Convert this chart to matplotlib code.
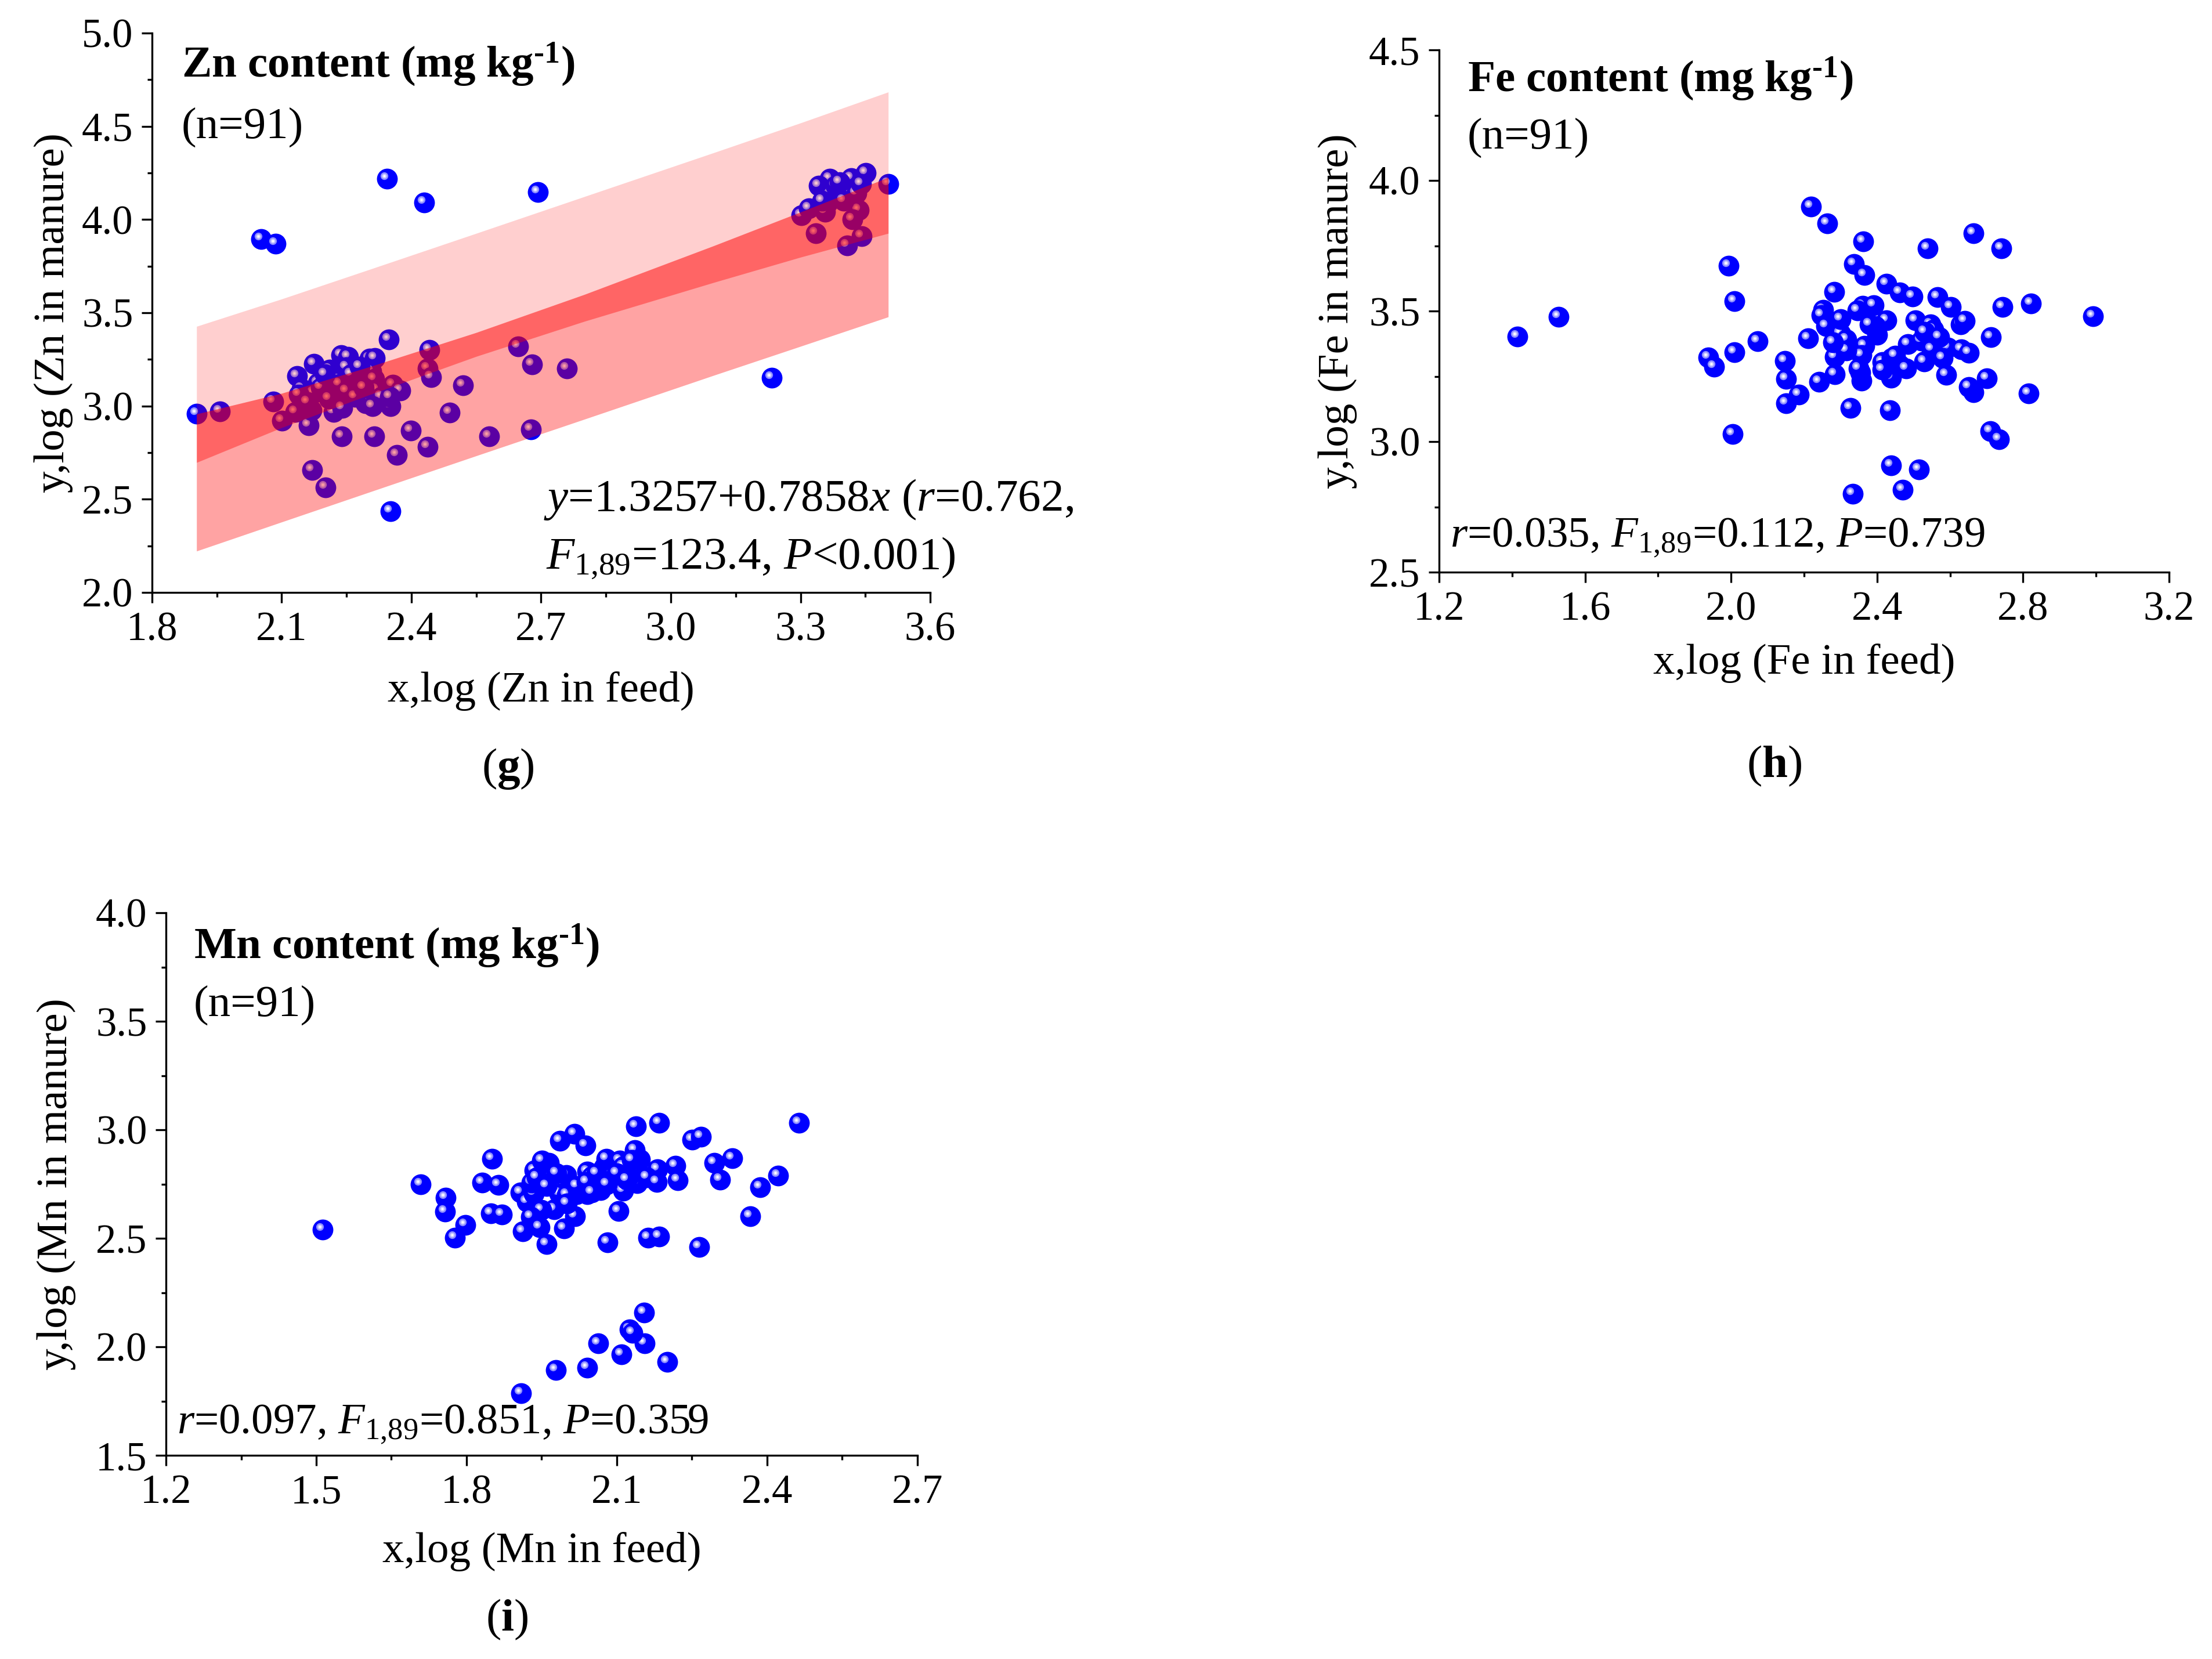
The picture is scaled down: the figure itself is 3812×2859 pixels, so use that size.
import matplotlib
matplotlib.use('Agg')
import matplotlib.pyplot as plt
import matplotlib.transforms as mtransforms
from matplotlib.ticker import MultipleLocator, FormatStrFormatter

plt.rcParams['font.family'] = ['Liberation Serif', 'DejaVu Serif']
plt.rcParams['mathtext.fontset'] = 'custom'
plt.rcParams['mathtext.rm'] = 'Liberation Serif'
plt.rcParams['mathtext.it'] = 'Liberation Serif:italic'
plt.rcParams['mathtext.bf'] = 'Liberation Serif:bold'

# ---------------- data ----------------
zn_feed = [1.903, 1.957, 2.053, 2.086, 2.343, 2.429, 2.693, 3.234, 2.760,
           2.347, 2.441, 2.438, 2.445, 2.520, 2.647, 2.679, 2.677, 2.580, 2.489,
           2.398, 2.437, 2.366, 2.314, 2.239, 2.171, 2.201, 2.352, 2.080, 2.101,
           2.162, 2.131,
           2.135, 2.175, 2.211, 2.238, 2.254, 2.303, 2.316, 2.249, 2.307, 2.184,
           2.231, 2.146, 2.175, 2.233, 2.276, 2.314, 2.319, 2.357, 2.374, 2.294,
           2.352, 2.220, 2.240, 2.169, 2.140, 2.204,
           2.19, 2.21, 2.25, 2.27, 2.29, 2.33, 2.26, 2.16, 2.20, 2.28, 2.24, 2.31, 2.35,
           3.504, 3.451, 3.417, 3.368, 3.342, 3.370, 3.430, 3.363, 3.435, 3.357,
           3.302, 3.336, 3.442, 3.408, 3.381,
           3.39, 3.40, 3.44, 3.35, 3.42, 3.32]
zn_manure = [2.960, 2.971, 3.896, 3.870, 4.218, 4.092, 4.147, 3.150, 3.200,
             3.357, 3.302, 3.201, 3.155, 3.111, 3.318, 3.222, 2.875, 2.838, 2.966,
             2.869, 2.781, 2.737, 2.838, 2.838, 2.657, 2.563, 2.436, 3.025, 2.921,
             2.895, 2.968,
             3.160, 3.225, 3.196, 3.274, 3.264, 3.253, 3.256, 3.207, 3.186, 3.123,
             3.139, 3.092, 3.072, 3.118, 3.139, 3.144, 3.087, 3.113, 3.082, 3.015,
             2.999, 2.968, 3.041, 2.978, 3.061, 3.061,
             3.10, 3.04, 3.08, 3.05, 3.10, 3.05, 3.17, 3.02, 3.17, 3.21, 2.99, 3.00, 3.05,
             4.190, 4.249, 4.223, 4.218, 4.182, 4.135, 4.140, 4.088, 4.052, 4.042,
             4.024, 3.927, 3.912, 3.860, 4.182,
             4.20, 4.10, 4.19, 4.10, 4.00, 4.06]

# confidence / prediction bands of the Zn fit, read at a few x positions
zn_band_x = [1.903, 2.10, 2.30, 2.55, 2.80, 3.10, 3.30, 3.503]
zn_conf_lo = [2.697, 2.884, 3.058, 3.266, 3.454, 3.663, 3.798, 3.926]
zn_conf_hi = [2.957, 3.068, 3.208, 3.394, 3.598, 3.860, 4.040, 4.226]
zn_pred_lo = [2.222, 2.378, 2.536, 2.733, 2.929, 3.165, 3.320, 3.478]
zn_pred_hi = [3.427, 3.574, 3.730, 3.926, 4.123, 4.359, 4.518, 4.684]

fe_feed = [2.219, 2.264, 2.362, 2.539, 2.665, 2.741, 2.337, 2.366, 2.425, 2.462,
           2.498, 2.282, 2.566, 2.602, 2.743, 2.821, 2.360, 2.390, 2.347, 2.252,
           2.247, 2.292, 2.260, 2.211, 2.425, 2.401, 2.395, 2.505, 2.546, 2.555,
           2.630, 2.641, 2.712, 2.300, 2.316, 2.366, 2.358, 2.284, 2.316, 2.484,
           2.521, 2.549, 2.594, 2.631, 2.651, 2.580, 2.529, 2.414, 2.462, 2.440,
           2.148, 2.151, 2.186, 2.151, 2.241, 2.284, 2.357, 2.355, 2.439, 2.414,
           2.590, 2.701, 2.664, 2.652, 2.816, 2.327, 2.436, 2.710, 2.734, 2.438,
           2.515, 2.471, 2.333,
           1.415, 1.528, 1.994, 2.010, 2.010, 2.073, 1.937, 1.953, 2.005, 2.991,
           2.30, 2.38, 2.45, 2.53, 2.57, 2.35, 2.48, 2.28]
fe_manure = [3.899, 3.836, 3.767, 3.741, 3.798, 3.739, 3.680, 3.637, 3.604, 3.571,
             3.556, 3.573, 3.554, 3.516, 3.516, 3.528, 3.519, 3.523, 3.502, 3.504,
             3.484, 3.459, 3.443, 3.395, 3.464, 3.410, 3.443, 3.465, 3.450, 3.430,
             3.449, 3.462, 3.399, 3.413, 3.391, 3.367, 3.332, 3.325, 3.350, 3.374,
             3.387, 3.354, 3.360, 3.354, 3.339, 3.321, 3.306, 3.304, 3.293, 3.321,
             3.310, 3.241, 3.180, 3.147, 3.230, 3.258, 3.234, 3.265, 3.244, 3.276,
             3.256, 3.243, 3.188, 3.210, 3.184, 3.128, 3.121, 3.039, 3.010, 2.910,
             2.893, 2.815, 2.800,
             3.403, 3.477, 3.674, 3.537, 3.342, 3.384, 3.323, 3.287, 3.029, 3.481,
             3.47, 3.45, 3.33, 3.42, 3.40, 3.28, 3.28, 3.38]

mn_feed = [1.708, 1.758, 1.757, 1.798, 1.777, 1.851, 1.831, 1.864, 1.849, 1.871,
           1.908, 1.920, 1.934, 1.930, 1.936, 1.964, 1.951, 1.987, 2.016, 2.037,
           1.999, 1.985, 1.975, 1.950, 1.929, 1.912, 1.946, 1.960, 1.995, 2.017,
           2.020, 2.041, 2.068, 2.041, 2.075, 2.079, 2.106, 2.113, 2.136, 2.146,
           2.181, 2.217, 2.222, 2.140, 2.113, 2.103, 2.082, 2.163, 2.184, 2.264,
           2.138, 2.184, 2.251, 2.268,
           2.155, 2.126, 2.156, 2.063, 2.109, 2.201, 2.041, 1.978, 1.909, 2.131,
           2.050, 2.089, 2.124,
           1.513, 2.295, 2.330, 2.306, 2.386, 2.422, 2.366, 2.464,
           1.94, 1.96, 1.98, 2.00, 2.02, 2.04, 2.06, 2.08, 2.10, 2.12, 2.14, 2.16,
           2.18, 2.00, 2.05, 2.13]
mn_manure = [2.749, 2.688, 2.624, 2.562, 2.504, 2.865, 2.757, 2.747, 2.616, 2.609,
             2.711, 2.669, 2.705, 2.756, 2.812, 2.848, 2.858, 2.948, 2.982, 2.928,
             2.791, 2.705, 2.633, 2.631, 2.600, 2.532, 2.551, 2.473, 2.545, 2.601,
             2.702, 2.703, 2.722, 2.807, 2.828, 2.867, 2.858, 2.831, 2.907, 2.864,
             2.818, 2.834, 2.767, 2.754, 2.718, 2.627, 2.482, 2.503, 2.508, 2.461,
             3.017, 3.032, 2.954, 2.968,
             2.159, 2.079, 2.016, 2.016, 1.964, 1.930, 1.903, 1.892, 1.785, 2.065,
             2.787, 2.787, 2.787,
             2.539, 2.847, 2.868, 2.771, 2.736, 2.789, 2.602, 3.033,
             2.78, 2.74, 2.80, 2.70, 2.74, 2.76, 2.80, 2.75, 2.80, 2.77, 2.82, 2.78,
             2.76, 2.66, 2.71, 2.86]

# ---------------- figure ----------------
W, H = 3812, 2859
DPI = 300
fig = plt.figure(figsize=(W / DPI, H / DPI), dpi=DPI)
FS_TICK = 17
FS_LAB = 18
FS_EQ = 19
FS_TITLE = 18.5


def axes_px(l, t, r, b):
    return fig.add_axes([l / W, 1 - b / H, (r - l) / W, (b - t) / H])


def ftext(x, y, s, **kw):
    fig.text(x / W, 1 - y / H, s, **kw)


def style(ax, xlim, ylim, xmaj, ymaj):
    ax.set_xlim(*xlim)
    ax.set_ylim(*ylim)
    ax.xaxis.set_major_locator(MultipleLocator(xmaj))
    ax.xaxis.set_minor_locator(MultipleLocator(xmaj / 2))
    ax.yaxis.set_major_locator(MultipleLocator(ymaj))
    ax.yaxis.set_minor_locator(MultipleLocator(ymaj / 2))
    ax.xaxis.set_major_formatter(FormatStrFormatter('%.1f'))
    ax.yaxis.set_major_formatter(FormatStrFormatter('%.1f'))
    for sp in ['top', 'right']:
        ax.spines[sp].set_visible(False)
    for sp in ['left', 'bottom']:
        ax.spines[sp].set_linewidth(0.8)
    ax.tick_params(which='both', direction='out', width=0.8, top=False, right=False)
    ax.tick_params(which='major', length=4.3, labelsize=FS_TICK, pad=3.5)
    ax.tick_params(which='minor', length=1.9)
    ax.patch.set_alpha(0)


def balls(ax, xs, ys):
    off = mtransforms.offset_copy(ax.transData, fig=fig, x=-1.2, y=1.2, units='points')
    for k, (x, y) in enumerate(zip(xs, ys)):
        z = 3 + k * 0.01
        ax.plot([x], [y], 'o', ms=8.6, mfc='#0000FF', mec='none', zorder=z)
        ax.plot([x], [y], 'o', ms=3.2, mfc='#8C8CFF', mec='none', zorder=z + 0.002, transform=off)
        ax.plot([x], [y], 'o', ms=2.0, mfc='#CACAFF', mec='none', zorder=z + 0.004, transform=off)
        ax.plot([x], [y], 'o', ms=0.95, mfc='#FFFFFF', mec='none', zorder=z + 0.006, transform=off)


# ---------- panel g ----------
axg = axes_px(262, 57, 1603, 1021)
style(axg, (1.8, 3.6), (2.0, 5.0), 0.3, 0.5)
balls(axg, zn_feed, zn_manure)
axg.fill_between(zn_band_x, zn_pred_lo, zn_pred_hi, color='#FF0000', alpha=0.19, lw=0, zorder=5)
axg.fill_between(zn_band_x, zn_pred_lo, zn_conf_hi, color='#FF0000', alpha=0.21, lw=0, zorder=5.1)
axg.fill_between(zn_band_x, zn_conf_lo, zn_conf_hi, color='#FF0000', alpha=0.375, lw=0, zorder=5.2)
axg.set_xlabel('x,log (Zn in feed)', fontsize=FS_LAB)
axg.set_ylabel('y,log (Zn in manure)', fontsize=FS_LAB)

# ---------- panel h ----------
axh = axes_px(2480, 86, 3738, 986)
style(axh, (1.2, 3.2), (2.5, 4.5), 0.4, 0.5)
balls(axh, fe_feed, fe_manure)
axh.set_xlabel('x,log (Fe in feed)', fontsize=FS_LAB)
axh.set_ylabel('y,log (Fe in manure)', fontsize=FS_LAB)

# ---------- panel i ----------
axi = axes_px(286, 1573, 1581, 2508)
style(axi, (1.2, 2.7), (1.5, 4.0), 0.3, 0.5)
balls(axi, mn_feed, mn_manure)
axi.set_xlabel('x,log (Mn in feed)', fontsize=FS_LAB)
axi.set_ylabel('y,log (Mn in manure)', fontsize=FS_LAB)

# axis label placement (figure pixel -> axes coords)
for ax, (l, t, r, b), xl_y, yl_x in [
        (axg, (262, 57, 1603, 1021), 1191, 92),
        (axh, (2480, 86, 3738, 986), 1143, 2305),
        (axi, (286, 1573, 1581, 2508), 2674, 97)]:
    ax.xaxis.set_label_coords(0.5, (b - xl_y) / (b - t))
    ax.xaxis.label.set_va('center')
    ax.yaxis.set_label_coords((yl_x - l) / (r - l), 0.5)
    ax.yaxis.label.set_va('center')
    ax.yaxis.label.set_ha('center')

# ---------- texts ----------
SUP = '$^{\\mathbf{\u20101}}$'
SUB = '$\\mathit{F}_{\\text{1,89}}$'
ftext(313, 133, 'Zn content (mg kg' + SUP + ')', fontsize=FS_TITLE, fontweight='bold', va='baseline')
ftext(313, 238, '(n=91)', fontsize=FS_TITLE, va='baseline')
ftext(937, 880, r'$\mathit{y}$=1.3257+0.7858$\mathit{x}$ ($\mathit{r}$=0.762,', fontsize=FS_EQ, va='baseline')
ftext(941, 980, SUB + r'=123.4, $\mathit{P}$<0.001)', fontsize=FS_EQ, va='baseline')

ftext(2529, 158, 'Fe content (mg kg' + SUP + ')', fontsize=FS_TITLE, fontweight='bold', va='baseline')
ftext(2529, 256, '(n=91)', fontsize=FS_TITLE, va='baseline')
ftext(2499, 943, r'$\mathit{r}$=0.035, ' + SUB + r'=0.112, $\mathit{P}$=0.739', fontsize=FS_LAB, va='baseline')

ftext(334, 1652, 'Mn content (mg kg' + SUP + ')', fontsize=FS_TITLE, fontweight='bold', va='baseline')
ftext(334, 1751, '(n=91)', fontsize=FS_TITLE, va='baseline')
ftext(305, 2471, r'$\mathit{r}$=0.097, ' + SUB + r'=0.851, $\mathit{P}$=0.359', fontsize=FS_LAB, va='baseline')

ftext(875, 1325, r'($\mathbf{g}$)', fontsize=19, ha='center', va='center')
ftext(3058, 1320, r'($\mathbf{h}$)', fontsize=19, ha='center', va='center')
ftext(874, 2791, r'($\mathbf{i}$)', fontsize=19, ha='center', va='center')

fig.savefig('out.png', dpi=DPI)
